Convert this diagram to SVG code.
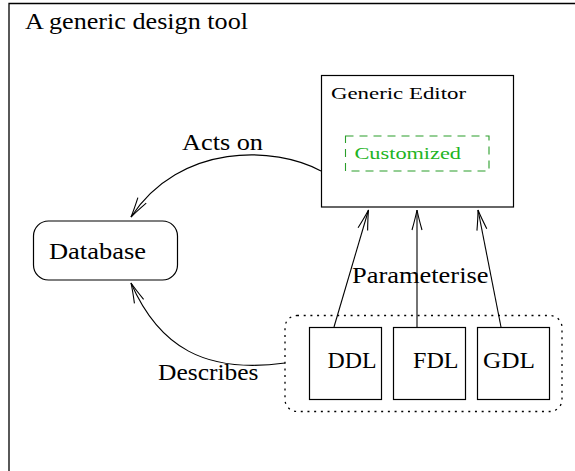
<svg xmlns="http://www.w3.org/2000/svg" width="575" height="471" viewBox="0 0 575 471">
  <defs>
    <style>
      .txt { font-family: "Liberation Serif", "DejaVu Serif", serif; fill: #000; }
      .big { font-size: 23px; }
      .small { font-size: 17px; }
      .box { fill: #fff; stroke: #000; stroke-width: 1.2; }
      .edge { fill: none; stroke: #000; stroke-width: 1.1; }
      .custom-label { fill: #22b422; }
      .custom-box { fill: none; stroke: #2a9e2a; stroke-width: 1.1; stroke-dasharray: 8 6; }
      .group-box { fill: none; stroke: #000; stroke-width: 1.3; stroke-dasharray: 2 4.7; }
    </style>
    <marker id="open-arrow" markerUnits="userSpaceOnUse" markerWidth="40" markerHeight="40"
            refX="0" refY="0" orient="auto" overflow="visible">
      <path d="M-20,-5 Q-8,-1.6 0,0 Q-8,1.6 -20,5" fill="none" stroke="#000" stroke-width="1.1"/>
    </marker>
  </defs>

  <rect width="575" height="471" fill="#fff"/>

  <!-- outer frame, open to the right and bottom -->
  <path d="M9,471 V3.5 H575" fill="none" stroke="#000" stroke-width="1.3"/>
  <text class="txt big" x="25" y="29" textLength="223" lengthAdjust="spacingAndGlyphs">A generic design tool</text>

  <!-- connectors -->
  <g id="connectors">
    <path id="acts-on" class="edge" d="M321,171 C275,146 180.5,142.3 131,217" marker-end="url(#open-arrow)"/>
    <path id="describes" class="edge" d="M285,363 C205,374 159,347 131,283" marker-end="url(#open-arrow)"/>
    <path id="ddl-param" class="edge" d="M334,327 L368.5,210" marker-end="url(#open-arrow)"/>
    <path id="fdl-param" class="edge" d="M417,327 L417,210" marker-end="url(#open-arrow)"/>
    <path id="gdl-param" class="edge" d="M501,327 L478,210" marker-end="url(#open-arrow)"/>
    <text class="txt big" x="182" y="150" textLength="81" lengthAdjust="spacingAndGlyphs">Acts on</text>
    <text class="txt big" x="352" y="283" textLength="136.5" lengthAdjust="spacingAndGlyphs">Parameterise</text>
    <text class="txt big" x="158" y="380" textLength="100.5" lengthAdjust="spacingAndGlyphs">Describes</text>
  </g>

  <!-- generic editor with its customized part -->
  <g id="generic-editor">
    <rect class="box" x="321.5" y="75.5" width="192" height="131.5"/>
    <text class="txt small" x="331" y="99" textLength="135" lengthAdjust="spacingAndGlyphs">Generic Editor</text>
    <g id="customized">
      <rect class="custom-box" x="345.5" y="136" width="143.5" height="35"/>
      <text class="txt small custom-label" x="354.5" y="159" textLength="106.5" lengthAdjust="spacingAndGlyphs">Customized</text>
    </g>
  </g>

  <!-- database -->
  <g id="database">
    <rect class="box" x="33.5" y="221" width="144" height="59" rx="15" ry="15"/>
    <text class="txt big" x="49" y="259" textLength="97" lengthAdjust="spacingAndGlyphs">Database</text>
  </g>

  <!-- description languages -->
  <g id="languages">
    <rect class="group-box" x="285" y="315.5" width="277" height="96" rx="12" ry="12"/>
  </g>
  <g id="ddl">
    <rect class="box" x="309.5" y="327.5" width="72" height="72"/>
    <text class="txt big" x="327.5" y="368" textLength="49" lengthAdjust="spacingAndGlyphs">DDL</text>
  </g>
  <g id="fdl">
    <rect class="box" x="393.5" y="327.5" width="72" height="72"/>
    <text class="txt big" x="413" y="368" textLength="45.5" lengthAdjust="spacingAndGlyphs">FDL</text>
  </g>
  <g id="gdl">
    <rect class="box" x="477.5" y="327.5" width="72" height="72"/>
    <text class="txt big" x="483" y="368" textLength="52" lengthAdjust="spacingAndGlyphs">GDL</text>
  </g>
</svg>
